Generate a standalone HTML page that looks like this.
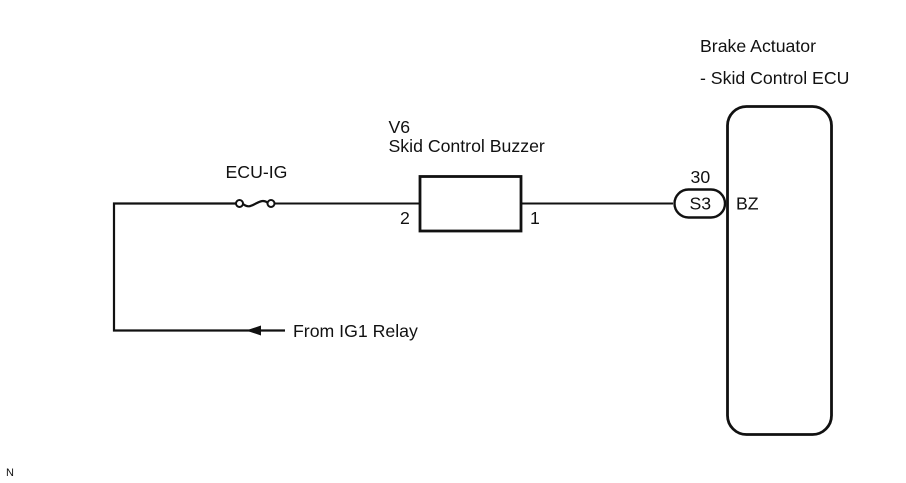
<!DOCTYPE html>
<html><head><meta charset="utf-8"><style>
html,body{margin:0;padding:0;background:#fff}
svg{display:block}
text{font-family:"Liberation Sans",sans-serif;font-size:17.7px;fill:#111}
</style></head><body>
<svg width="906" height="483" viewBox="0 0 906 483" xmlns="http://www.w3.org/2000/svg">
<g fill="none" stroke="#111">
<path d="M236 203.500H114V330.500H285" stroke-width="2.200"/>
<path d="M274 203.500H420" stroke-width="2"/>
<path d="M521 203.500H673" stroke-width="2"/>
<rect x="420" y="176.500" width="101" height="54.500" stroke-width="2.800"/>
<rect x="727.500" y="106.500" width="104" height="328" rx="19" ry="19" stroke-width="2.800"/>
<rect x="674.500" y="189.500" width="50.500" height="28" rx="14" ry="14" stroke-width="2.400" fill="#fff"/>
<circle cx="239.500" cy="203.500" r="3.500" stroke-width="2" fill="#fff"/>
<circle cx="271" cy="203.500" r="3.500" stroke-width="2" fill="#fff"/>
<path d="M243 204C248 208 251 206 255 204S263 199 268 203" stroke-width="2.200"/>
</g>
<path d="M246 330.500L261 325.500V335.500Z" fill="#111"/>
<text x="225.500" y="178">ECU-IG</text>
<text x="388.500" y="133">V6</text>
<text x="388.500" y="152">Skid Control Buzzer</text>
<text x="400" y="224">2</text>
<text x="530" y="224">1</text>
<text x="700" y="52">Brake Actuator</text>
<text x="700" y="84">- Skid Control ECU</text>
<text x="690.500" y="183">30</text>
<text x="689.500" y="209.500">S3</text>
<text x="736" y="209.500">BZ</text>
<text x="293" y="337">From IG1 Relay</text>
<text x="6" y="476" style="font-size:11px">N</text>
</svg>
</body></html>
